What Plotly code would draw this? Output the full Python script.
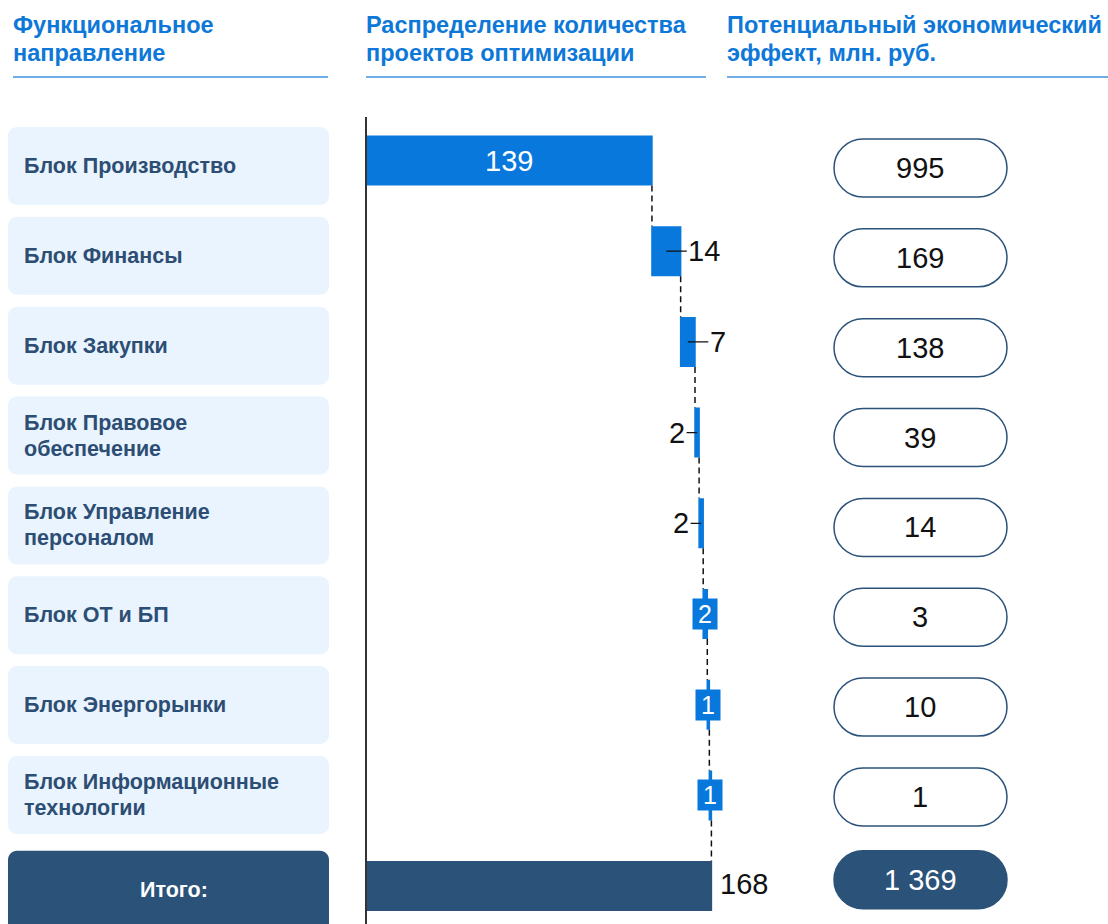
import plotly.graph_objects as go

# ---------------- data ----------------
categories = ["Блок Производство", "Блок Финансы", "Блок Закупки",
              "Блок Правовое обеспечение", "Блок Управление персоналом",
              "Блок ОТ и БП", "Блок Энергорынки",
              "Блок Информационные технологии", "Итого:"]
category_labels = ["Блок Производство", "Блок Финансы", "Блок Закупки",
                   "Блок Правовое<br>обеспечение", "Блок Управление<br>персоналом",
                   "Блок ОТ и БП", "Блок Энергорынки",
                   "Блок Информационные<br>технологии", "Итого:"]
project_counts = [139, 14, 7, 2, 2, 2, 1, 1]
project_total = 168
economic_effect = ["995", "169", "138", "39", "14", "3", "10", "1", "1 369"]
headers = ["Функциональное<br>направление",
           "Распределение количества<br>проектов оптимизации",
           "Потенциальный экономический<br>эффект, млн. руб."]

# ---------------- style ----------------
W, H = 1108, 924
BLUE = "#0878DC"
NAVY = "#2B5279"
HEAD = "#0E78D8"
LINE = "#3F93DD"
BOXBG = "#EAF4FE"
LABEL = "#2D4E74"
FONT = "Liberation Sans, Arial, sans-serif"

# label placement for each bar (inside / right / left / box)
label_mode = ["inside", "right", "right", "left", "left", "box", "box", "box"]

# geometry (pixels)
BAR0, BAR_STEP = 160.5, 90.7      # bar row centres
BOX0, BOX_STEP = 166.0, 89.85     # side boxes row centres
PLOT_TOP = 117.0
X0PX, PXU = 367.0, 2.05
XMAX = 172.0


def px(x):
    return x / W


def py(y):
    return 1 - y / H


def box_px(i):
    return BOX0 + BOX_STEP * i


def rounded_path(x0, y0, x1, y1, r):
    k = 0.5523 * r

    def P(x, y):
        return f"{px(x):.6f},{py(y):.6f}"
    s = f"M {P(x0 + r, y0)} L {P(x1 - r, y0)} "
    s += f"C {P(x1 - r + k, y0)} {P(x1, y0 + r - k)} {P(x1, y0 + r)} "
    s += f"L {P(x1, y1 - r)} "
    s += f"C {P(x1, y1 - r + k)} {P(x1 - r + k, y1)} {P(x1 - r, y1)} "
    s += f"L {P(x0 + r, y1)} "
    s += f"C {P(x0 + r - k, y1)} {P(x0, y1 - r + k)} {P(x0, y1 - r)} "
    s += f"L {P(x0, y0 + r)} "
    s += f"C {P(x0, y0 + r - k)} {P(x0 + r - k, y0)} {P(x0 + r, y0)} Z"
    return s


n = len(categories)
y_idx = list(range(n))

fig = go.Figure()
fig.add_trace(go.Waterfall(
    orientation="h",
    y=y_idx,
    x=project_counts + [project_total],
    measure=["relative"] * len(project_counts) + ["total"],
    width=[50 / BAR_STEP] * n,
    increasing=dict(marker=dict(color=BLUE, line=dict(width=0))),
    totals=dict(marker=dict(color=NAVY, line=dict(width=0))),
    connector=dict(line=dict(color="#111111", width=1.5, dash="6px,4px"), mode="between"),
    hoverinfo="skip",
    cliponaxis=False,
))

plot_bottom_val = (H - BAR0) / BAR_STEP
plot_top_val = -(BAR0 - PLOT_TOP) / BAR_STEP
x_right_px = X0PX + PXU * XMAX

fig.update_layout(
    width=W, height=H,
    margin=dict(l=0, r=0, t=0, b=0),
    paper_bgcolor="white", plot_bgcolor="white",
    showlegend=False,
    xaxis=dict(domain=[px(X0PX), px(x_right_px)], range=[0, XMAX],
               visible=False, showgrid=False, zeroline=False),
    yaxis=dict(domain=[0, py(PLOT_TOP)], range=[plot_bottom_val, plot_top_val],
               showgrid=False, zeroline=False, showticklabels=False, ticks="",
               showline=True, linecolor="#333333", linewidth=1.5),
    font=dict(family=FONT),
)

shapes = []
annotations = []

# headers (each line placed separately for exact line spacing)
header_x = [13, 366, 727]
line_spans = [(13, 328), (366, 706), (727, 1108)]
for hx, txt, (l0, l1) in zip(header_x, headers, line_spans):
    for k, part in enumerate(txt.split("<br>")):
        annotations.append(dict(xref="paper", yref="paper", x=px(hx - 2), y=py(25 + 28 * k),
                                xanchor="left", yanchor="middle", align="left",
                                text=f"<b>{part}</b>", showarrow=False,
                                font=dict(size=23.5, color=HEAD, family=FONT)))
    shapes.append(dict(type="line", xref="paper", yref="paper",
                       x0=px(l0), x1=px(l1), y0=py(77), y1=py(77),
                       line=dict(color=LINE, width=1.5)))

# left category boxes and right pills
for i, (lab, eff) in enumerate(zip(category_labels, economic_effect)):
    c = box_px(i)
    last = (i == n - 1)
    if last:
        top, bottom = c - 34, c + 50
    else:
        top, bottom = c - 39, c + 39
    shapes.append(dict(type="path", xref="paper", yref="paper",
                       path=rounded_path(8, top, 329, bottom, 9),
                       fillcolor=NAVY if last else BOXBG, line=dict(width=0), layer="below"))
    if last:
        annotations.append(dict(xref="paper", yref="paper", x=px(174), y=py(c + 5),
                                xanchor="center", yanchor="middle",
                                text=f"<b>{lab}</b>", showarrow=False,
                                font=dict(size=21.5, color="white", family=FONT)))
    else:
        parts = lab.split("<br>")
        offs = [0] if len(parts) == 1 else [-13, 13]
        for part, o in zip(parts, offs):
            annotations.append(dict(xref="paper", yref="paper", x=px(22), y=py(c + o),
                                    xanchor="left", yanchor="middle", align="left",
                                    text=f"<b>{part}</b>", showarrow=False,
                                    font=dict(size=21.5, color=LABEL, family=FONT)))
    pc = c - 5 if last else c + 2
    shapes.append(dict(type="path", xref="paper", yref="paper",
                       path=rounded_path(834, pc - 29, 1007, pc + 29, 29),
                       fillcolor=NAVY if last else "white",
                       line=dict(color=NAVY, width=1.5), layer="below"))
    annotations.append(dict(xref="paper", yref="paper", x=px(920), y=py(pc),
                            xanchor="center", yanchor="middle",
                            text=eff, showarrow=False,
                            font=dict(size=29, color="white" if last else "#111111", family=FONT)))

# bar value labels
base = 0
for i, (v, mode) in enumerate(zip(project_counts, label_mode)):
    mid = base + v / 2
    if mode == "inside":
        annotations.append(dict(x=mid, y=i, xref="x", yref="y", text=str(v), showarrow=False,
                                font=dict(size=29, color="white", family=FONT)))
    elif mode == "right":
        annotations.append(dict(x=mid, y=i, xref="x", yref="y", text=str(v), showarrow=True,
                                arrowhead=0, arrowwidth=1.3, arrowcolor="#111111",
                                ax=22 + 8 * len(str(v)), ay=0, standoff=0,
                                font=dict(size=29, color="#111111", family=FONT)))
    elif mode == "left":
        annotations.append(dict(x=mid, y=i, xref="x", yref="y", text=str(v), showarrow=True,
                                arrowhead=0, arrowwidth=1.3, arrowcolor="#111111",
                                ax=-20, ay=0, standoff=0,
                                font=dict(size=29, color="#111111", family=FONT)))
    else:
        annotations.append(dict(x=mid, y=i, xref="x", yref="y", text=str(v), showarrow=False,
                                bgcolor=BLUE, borderpad=1, width=22, height=28,
                                font=dict(size=25, color="white", family=FONT)))
    base += v

annotations.append(dict(x=project_total, y=n - 1, xref="x", yref="y", text=str(project_total),
                        showarrow=False, xanchor="left", xshift=7, yshift=2,
                        font=dict(size=29, color="#111111", family=FONT)))

fig.update_layout(shapes=shapes, annotations=annotations)

fig.write_html("out.html", config={"displayModeBar": False},
               post_script="document.body.style.margin='0';document.body.style.overflow='hidden';")
